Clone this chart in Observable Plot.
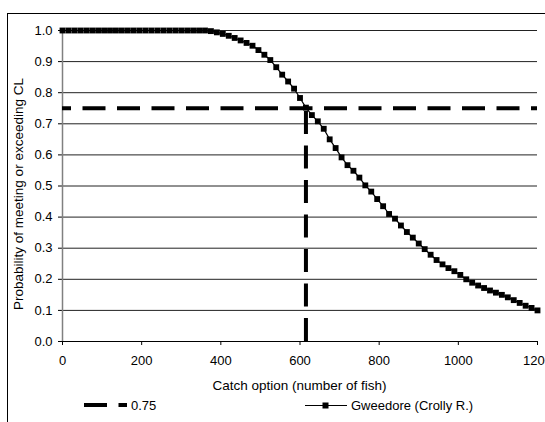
<!DOCTYPE html>
<html>
<head>
<meta charset="utf-8">
<script src="https://cdn.jsdelivr.net/npm/d3@7"></script>
<script src="https://cdn.jsdelivr.net/npm/@observablehq/plot@0.6"></script>
<style>
  html, body { margin: 0; padding: 0; background: #fff; }
  #wrap { position: relative; width: 545px; height: 422px; overflow: hidden; font-family: "Liberation Sans", Arial, sans-serif; color: #000; }
  #frame { position: absolute; left: 7px; top: 13px; width: 700px; height: 600px; border: 1px solid #000; box-sizing: border-box; }
  #chart { position: absolute; left: 0; top: 0; }
  .legend { position: absolute; top: 397px; height: 16px; display: flex; align-items: center; font-size: 13px; }
  .legend svg { display: block; }
  .axlabel { position: absolute; white-space: nowrap; font-size: 13.5px; line-height: 1; }
</style>
</head>
<body>
<div id="wrap">
  <div id="frame"></div>
  <div id="chart"></div>
  <div id="ylab" class="axlabel" style="left:19px; top:194px; transform: translate(-50%,-50%) rotate(-90deg);"></div>
  <div id="xlab" class="axlabel" style="left:299.5px; top:386px; transform: translate(-50%,-50%);"></div>
  <div class="legend" style="left:84px"><svg width="45" height="10"><line x1="0" y1="5" x2="43" y2="5" stroke="#000" stroke-width="4" stroke-dasharray="23,11.5"/></svg><span id="leg1" style="margin-left:2px"></span></div>
  <div class="legend" style="left:305px"><svg width="44" height="10"><line x1="0" y1="5.5" x2="42" y2="5.5" stroke="#000" stroke-width="1"/><rect x="17.5" y="2.5" width="6" height="6" fill="#000"/></svg><span id="leg2" style="margin-left:2px"></span></div>
</div>
<script>
// Data
const catchOptions = [
  0,15,30,45,60,75,90,105,120,135,150,165,180,195,210,225,240,255,270,285,300,315,330,345,360,
  375,390,405,420,435,450,465,480,495,510,525,540,555,570,585,600,615,630,645,660,675,690,705,720,735,750,
  765,780,795,810,825,840,855,870,885,900,915,930,945,960,975,990,1005,1020,1035,1050,1065,1080,1095,1110,
  1125,1140,1155,1170,1185,1200
];
const probGweedore = [
  1,1,1,1,1,1,1,1,1,1,1,1,1,1,1,1,1,1,1,1,1,1,1,1,1,
  0.998,0.994,0.989,0.983,0.976,0.968,0.960,0.951,0.937,0.922,0.905,0.882,0.858,0.836,0.813,0.783,0.752,0.728,0.708,0.684,0.650,0.622,0.592,0.567,0.549,0.527,
  0.502,0.482,0.458,0.435,0.410,0.395,0.373,0.352,0.334,0.315,0.297,0.279,0.262,0.248,0.236,0.226,0.214,0.200,0.189,0.180,0.172,0.164,0.157,0.150,
  0.142,0.133,0.124,0.115,0.108,0.100
];
const thresholdProb = 0.75;
const thresholdCatch = 615;
const xTicks = [0, 200, 400, 600, 800, 1000, 1200];
const yTicks = [0, 0.1, 0.2, 0.3, 0.4, 0.5, 0.6, 0.7, 0.8, 0.9, 1.0];
const xLabel = "Catch option (number of fish)";
const yLabel = "Probability of meeting or exceeding CL";
const seriesNames = ["0.75", "Gweedore (Crolly R.)"];

document.getElementById("xlab").textContent = xLabel;
document.getElementById("ylab").textContent = yLabel;
document.getElementById("leg1").textContent = seriesNames[0];
document.getElementById("leg2").textContent = seriesNames[1];

const series = catchOptions.map((c, i) => ({x: c, y: probGweedore[i]}));

const chart = Plot.plot({
  width: 545,
  height: 422,
  marginLeft: 62,
  marginRight: 8,
  marginTop: 30,
  marginBottom: 81,
  style: {fontFamily: "'Liberation Sans', Arial, sans-serif", fontSize: "13px", background: "transparent", color: "#000"},
  x: {domain: [0, 1200], ticks: xTicks, tickSize: 4, tickPadding: 10, tickFormat: d => String(d), label: null},
  y: {domain: [0, 1], ticks: yTicks, tickSize: 4, tickPadding: 6, tickFormat: d => d.toFixed(1), label: null},
  marks: [
    Plot.ruleY(yTicks.filter(d => d > 0), {stroke: "#222", strokeWidth: 1}),
    Plot.ruleX([0], {stroke: "#808080", strokeWidth: 1.5}),
    Plot.ruleY([0], {stroke: "#000", strokeWidth: 1}),
    Plot.ruleY([thresholdProb], {x1: 0, x2: 1200, stroke: "#000", strokeWidth: 4, strokeDasharray: "23,11.5", strokeDashoffset: 14}),
    Plot.ruleX([thresholdCatch], {y1: 0, y2: thresholdProb, stroke: "#000", strokeWidth: 4, strokeDasharray: "23,11.5", strokeDashoffset: 0}),
    Plot.line(series, {x: "x", y: "y", stroke: "#000", strokeWidth: 1.2}),
    Plot.dot(series, {x: "x", y: "y", symbol: "square", r: 3.3, fill: "#000", stroke: "none"})
  ]
});
document.getElementById("chart").appendChild(chart);
</script>
</body>
</html>
